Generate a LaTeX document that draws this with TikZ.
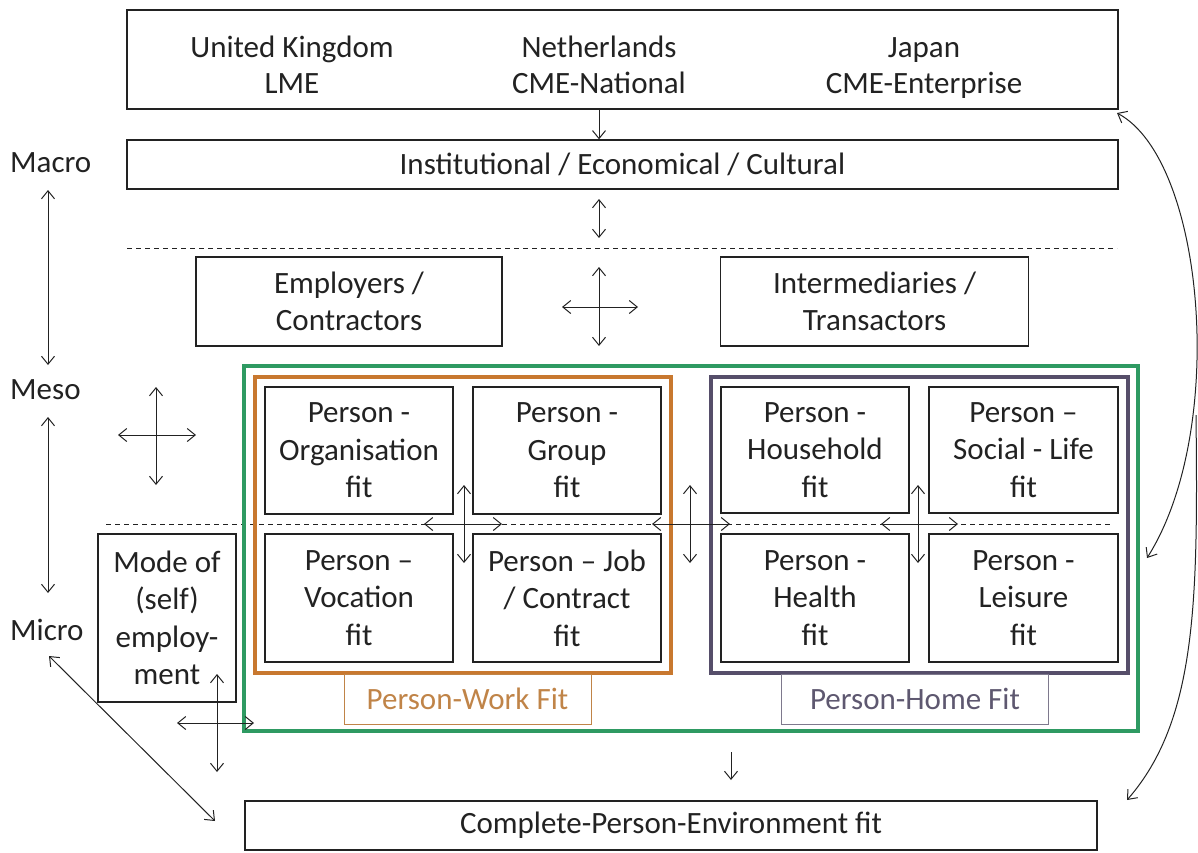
\documentclass[tikz,border=0pt]{standalone}
\usepackage{fontspec}
\setmainfont{Carlito}
\usetikzlibrary{arrows.meta}
\definecolor{grn}{HTML}{2E9A62}
\definecolor{orng}{HTML}{C8782F}
\definecolor{purp}{HTML}{564E6A}
\definecolor{orgtxt}{HTML}{C08448}
\definecolor{purtxt}{HTML}{5E5870}
\definecolor{ink}{HTML}{222222}
\tikzset{
  box/.style={draw=ink, line width=1.3pt, inner sep=0pt, align=center, text=ink, font=\fontsize{31}{37.5}\selectfont},
  lbl/.style={inner sep=0pt, align=center, text=ink, font=\fontsize{31}{36}\selectfont},
  frame/.style={line width=3.5pt, inner sep=0pt},
  arr/.style={draw=ink, line width=1pt, -{Straight Barb[length=8pt,width=13pt]}},
  dbl/.style={draw=ink, line width=1pt, {Straight Barb[length=8pt,width=13pt]}-{Straight Barb[length=8pt,width=13pt]}},
  dsh/.style={draw=ink, line width=1pt, dash pattern=on 5pt off 4pt}
}
\begin{document}
\begin{tikzpicture}[x=1pt,y=-1pt]
\useasboundingbox (0,0) rectangle (1198,852);
% dashed separators
\coordinate (d1a) at (127,248); \coordinate (d1b) at (1117,248);
\coordinate (d2a) at (106,524); \coordinate (d2b) at (1113,524);
\draw[dsh] (d1a) -- (d1b);
\draw[dsh] (d2a) -- (d2b);
% top boxes
\node[box, minimum width=991, minimum height=99] (top) at (622.5,59.5) {};
\node[lbl] (uk) at (292,68) {\strut United Kingdom\\\strut LME};
\node[lbl] (nl) at (599,68) {\strut Netherlands\\\strut CME-National};
\node[lbl] (jp) at (924,68) {\strut Japan\\\strut CME-Enterprise};
\node[box, minimum width=991, minimum height=49] (inst) at (622.5,164.5) {Institutional / Economical / Cultural};
% level labels
\node[lbl, anchor=west] (macro) at (10,163) {Macro};
\node[lbl, anchor=west] (meso) at (10,390) {Meso};
\node[lbl, anchor=west] (micro) at (10,630) {Micro};
% meso boxes
\node[box, minimum width=306, minimum height=89] (empl) at (349,301.5) {Employers /\\Contractors};
\node[box, minimum width=308, minimum height=89] (inter) at (874.5,301.5) {Intermediaries /\\Transactors};
% frames
\node[frame, draw=grn, minimum width=894, minimum height=365] (green) at (691,548.5) {};
\node[frame, draw=orng, minimum width=416, minimum height=296] (work) at (463,525) {};
\node[frame, draw=purp, minimum width=417, minimum height=296] (home) at (919.5,525) {};
% fit boxes
\node[box, minimum width=188, minimum height=127] (orgf) at (359,450.5) {Person -\\Organisation\\fit};
\node[box, minimum width=188, minimum height=127] (grp) at (567,450.5) {Person -\\Group\\fit};
\node[box, minimum width=188, minimum height=126] (hh) at (815,450) {Person -\\Household\\fit};
\node[box, minimum width=189, minimum height=126] (soc) at (1023.5,450) {Person –\\Social - Life\\fit};
\node[box, minimum width=188, minimum height=128] (voc) at (359,598) {Person –\\Vocation\\fit};
\node[box, minimum width=188, minimum height=128] (job) at (567,598) {Person – Job\\/ Contract\\fit};
\node[box, minimum width=188, minimum height=128] (hlth) at (815,598) {Person -\\Health\\fit};
\node[box, minimum width=189, minimum height=128] (leis) at (1023.5,598) {Person -\\Leisure\\fit};
\node[box, minimum width=138, minimum height=168] (mode) at (167,618) {Mode of\\(self)\\employ-\\ment};
% fit labels
\node[box, draw=orgtxt, line width=0.8pt, text=orgtxt, minimum width=247, minimum height=50] (pwf) at (467.5,699) {Person-Work Fit};
\node[box, draw=purtxt!80, line width=0.8pt, text=purtxt, minimum width=267, minimum height=50] (phf) at (915,699) {Person-Home Fit};
% bottom box
\node[box, minimum width=852, minimum height=49] (comp) at (671,825.5) {Complete-Person-Environment fit};
% arrows top
\draw[arr] (nl |- top.south) -- (nl |- inst.north);
\coordinate (ia) at (599,199); \coordinate (ib) at (599,238);
\draw[dbl] (ia) -- (ib);
% centre cross between employers and intermediaries
\coordinate (c1l) at (562,307); \coordinate (c1r) at (638,307);
\coordinate (c1t) at (599,267); \coordinate (c1b) at (599,346);
\draw[dbl] (c1l) -- (c1r);
\draw[dbl] (c1t) -- (c1b);
% level arrows
\coordinate (la1) at (48,190); \coordinate (lb1) at (48,365);
\coordinate (la2) at (48,417); \coordinate (lb2) at (48,593);
\draw[dbl] (la1) -- (lb1);
\draw[dbl] (la2) -- (lb2);
% left cross
\coordinate (lcl) at (118,435); \coordinate (lcr) at (196,435);
\coordinate (lct) at (156,387); \coordinate (lcb) at (156,485);
\draw[dbl] (lcl) -- (lcr);
\draw[dbl] (lct) -- (lcb);
% crosses between fit boxes
\coordinate (x1l) at (424,524); \coordinate (x1r) at (502,524);
\coordinate (x1t) at (464,485); \coordinate (x1b) at (464,563);
\draw[dbl] (x1l) -- (x1r); \draw[dbl] (x1t) -- (x1b);
\coordinate (x2l) at (652,524); \coordinate (x2r) at (730,524);
\coordinate (x2t) at (690,485); \coordinate (x2b) at (690,563);
\draw[dbl] (x2l) -- (x2r); \draw[dbl] (x2t) -- (x2b);
\coordinate (x3l) at (881,524); \coordinate (x3r) at (958,524);
\coordinate (x3t) at (918,485); \coordinate (x3b) at (918,563);
\draw[dbl] (x3l) -- (x3r); \draw[dbl] (x3t) -- (x3b);
% bottom-left cross
\coordinate (blt) at (217,674); \coordinate (blb) at (217,772);
\coordinate (bll) at (177,723); \coordinate (blr) at (254,723);
\draw[dbl] (bll) -- (blr); \draw[dbl] (blt) -- (blb);
% diagonal
\coordinate (dga) at (49,656); \coordinate (dgb) at (215,821);
\draw[dbl] (dga) -- (dgb);
% down to complete
\coordinate (dwa) at (731,752); \coordinate (dwb) at (731,780);
\draw[arr] (dwa) -- (dwb);
% right curves
\coordinate (cva) at (1117,113); \coordinate (cvb) at (1147,558);
\coordinate (cwa) at (1196,415); \coordinate (cwb) at (1127,800);
\draw[dbl] (cva) .. controls (1205,160) and (1228,430) .. (cvb);
\draw[arr] (cwa) .. controls (1198,600) and (1197,720) .. (cwb);
\end{tikzpicture}
\end{document}
